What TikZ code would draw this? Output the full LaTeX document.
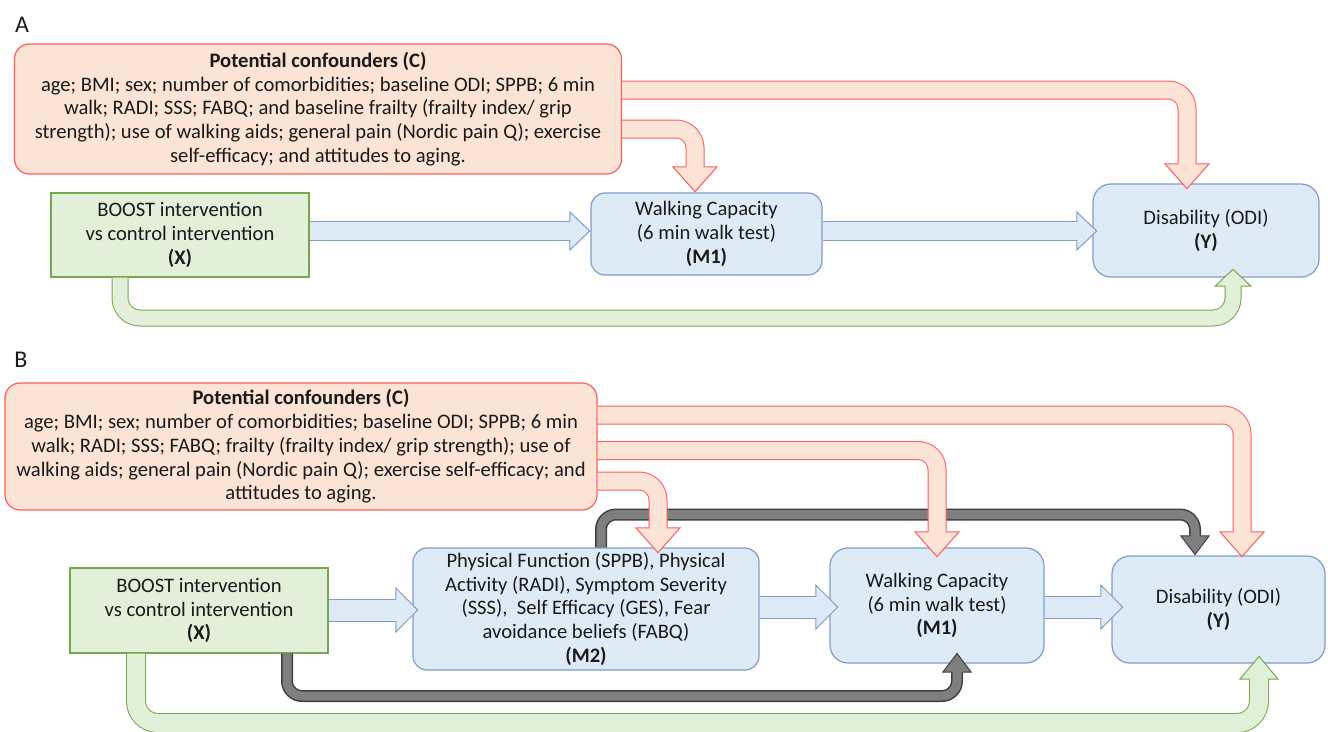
\documentclass[tikz,border=0pt]{standalone}
\usepackage{fontspec}
\setmainfont{Carlito}
\usetikzlibrary{arrows.meta,positioning,calc}

\definecolor{redline}{HTML}{FF5B5B}
\definecolor{redfill}{HTML}{FBE4D5}
\definecolor{blueline}{HTML}{7E9CC8}
\definecolor{bluefill}{HTML}{DEEBF7}
\definecolor{greenline}{HTML}{74A84E}
\definecolor{greenfill}{HTML}{E2EFD9}
\definecolor{grayline}{HTML}{3F3F3F}
\definecolor{grayfill}{HTML}{7F7F7F}
\definecolor{txt}{HTML}{1A1A1A}

\tikzset{
  % block arrow: outline, fill, outer width, inner width, head width, head length
  fat/.style n args={6}{draw=#1, line width=#3,
    -{Triangle[width=#5, length=#6, fill=#2, color=#1, line width=1pt]},
    postaction={draw=#2, line width=#4, -, shorten >=#6-1.5pt}},
  redarrow/.style={fat={redline}{redfill}{19pt}{17pt}{46pt}{26pt}, rounded corners=19pt},
  bluearrowA/.style={fat={blueline}{bluefill}{20pt}{18pt}{40pt}{21pt}},
  bluearrowB/.style={fat={blueline}{bluefill}{23pt}{21pt}{46pt}{23pt}},
  greenarrowA/.style={fat={greenline}{greenfill}{17pt}{15pt}{38pt}{18pt}, rounded corners=20pt},
  greenarrowB/.style={fat={greenline}{greenfill}{20pt}{18pt}{40pt}{24pt}, rounded corners=22pt},
  grayarrow/.style={fat={grayline}{grayfill}{12pt}{9pt}{30pt}{20pt}, rounded corners=15pt},
  conf/.style={draw=redline, fill=redfill, rounded corners=15pt, line width=1.2pt, align=center, inner sep=0pt},
  xbox/.style={draw=greenline, fill=greenfill, line width=1.2pt, align=center, inner sep=0pt},
  mbox/.style={draw=blueline, fill=bluefill, rounded corners=14pt, line width=1.2pt, align=center, inner sep=0pt},
  panel/.style={font=\fontsize{24}{26}\selectfont}
}

\begin{document}
\begin{tikzpicture}[x=1pt,y=-1pt,
  every node/.style={text=txt, font=\fontsize{20.6}{23.8}\selectfont}]
\useasboundingbox (0,0) rectangle (1328,731);

% panel A
\node[panel] (lblA) at (22,25) {A};
\node[conf, minimum width=607pt, minimum height=130pt] (CA) at (318,109)
  {\textbf{Potential confounders (C)}\\
   age; BMI; sex; number of comorbidities; baseline ODI; SPPB; 6 min\\
   walk; RADI; SSS; FABQ; and baseline frailty (frailty index/ grip\\
   strength); use of walking aids; general pain (Nordic pain Q); exercise\\
   self-efficacy; and attitudes to aging.};
\node[xbox, minimum width=258pt, minimum height=84pt] (XA) at (180,235)
  {BOOST intervention\\vs control intervention\\\textbf{(X)}};
\node[mbox, minimum width=231pt, minimum height=82pt] (MA) at (706.5,234)
  {Walking Capacity\\(6 min walk test)\\\textbf{(M1)}};
\node[mbox, rounded corners=18pt, minimum width=226pt, minimum height=93pt] (YA) at (1206,230.5)
  {Disability (ODI)\\\textbf{(Y)}};

\draw[redarrow] (CA.east |- 0,90) -| ($(YA.north -| 1187,0)+(0,6)$);
\draw[redarrow] (CA.east |- 0,129) -| (MA.north -| 695,0);
\draw[bluearrowA] (XA.east |- 0,231) -- (MA.west |- 0,231);
\draw[bluearrowA] (MA.east |- 0,231) -- ($(YA.west |- 0,231)+(5,0)$);
\draw[greenarrowA] (XA.south -| 120,0) |- (1233,318) -- ($(YA.south -| 1233,0)+(0,-9)$);

% panel B
\node[panel] (lblB) at (21,360) {B};
\node[conf, minimum width=592pt, minimum height=127pt] (CB) at (301,446.5)
  {\textbf{Potential confounders (C)}\\
   age; BMI; sex; number of comorbidities; baseline ODI; SPPB; 6 min\\
   walk; RADI; SSS; FABQ; frailty (frailty index/ grip strength); use of\\
   walking aids; general pain (Nordic pain Q); exercise self-efficacy; and\\
   attitudes to aging.};
\node[xbox, minimum width=258pt, minimum height=85pt] (XB) at (199,610.5)
  {BOOST intervention\\vs control intervention\\\textbf{(X)}};
\node[mbox, minimum width=346pt, minimum height=122pt] (M2) at (586,609)
  {Physical Function (SPPB), Physical\\Activity (RADI), Symptom Severity\\
   (SSS),\ \ Self Efficacy (GES), Fear\\avoidance beliefs (FABQ)\\\textbf{(M2)}};
\node[mbox, rounded corners=18pt, minimum width=214pt, minimum height=115pt] (MB) at (937,605.5)
  {Walking Capacity\\(6 min walk test)\\\textbf{(M1)}};
\node[mbox, rounded corners=18pt, minimum width=213pt, minimum height=107pt] (YB) at (1218.5,609.5)
  {Disability (ODI)\\\textbf{(Y)}};

\draw[grayarrow] (M2.north -| 601,0) |- (1195,514.5) -- (YB.north -| 1195,0);
\draw[grayarrow] (XB.south -| 287,0) |- (957,696) -- ($(MB.south -| 957,0)+(0,-11)$);
\draw[redarrow] (CB.east |- 0,415) -| ($(YB.north -| 1242,0)+(0,2)$);
\draw[redarrow] (CB.east |- 0,450.5) -| ($(MB.north -| 937,0)+(0,10)$);
\draw[redarrow] (CB.east |- 0,481) -| ($(M2.north -| 658,0)+(0,6)$);
\draw[bluearrowB] (XB.east |- 0,610) -- ($(M2.west |- 0,610)+(6,0)$);
\draw[bluearrowB] (M2.east |- 0,607) -- ($(MB.west |- 0,607)+(9,0)$);
\draw[bluearrowB] (MB.east |- 0,607) -- ($(YB.west |- 0,607)+(12,0)$);
\draw[greenarrowB] (XB.south -| 136,0) |- (1259,723) -- ($(YB.south -| 1259,0)+(0,-8)$);
\end{tikzpicture}
\end{document}
